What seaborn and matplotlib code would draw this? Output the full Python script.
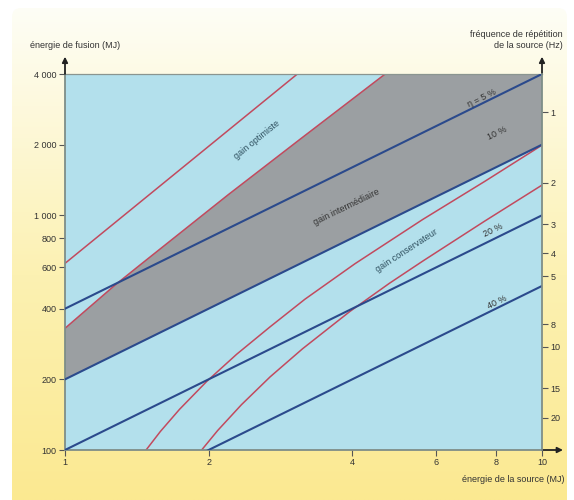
import numpy as np
import pandas as pd
import matplotlib
matplotlib.use("Agg")
import matplotlib.pyplot as plt
import seaborn as sns
from matplotlib.patches import FancyBboxPatch
from matplotlib.ticker import NullLocator, FixedLocator, FixedFormatter

# ---------------- data ----------------
source_ticks = [1, 2, 4, 6, 8, 10]
source_tick_labels = ["1", "2", "4", "6", "8", "10"]
fusion_ticks = [100, 200, 400, 600, 800, 1000, 2000, 4000]
fusion_tick_labels = ["100", "200", "400", "600", "800", "1 000", "2 000", "4 000"]
freq_ticks = [1, 2, 3, 4, 5, 8, 10, 15, 20]
freq_tick_labels = ["1", "2", "3", "4", "5", "8", "10", "15", "20"]
freq_constant = 2750  # fusion energy (MJ) x repetition frequency (Hz)

eff_labels = ["η = 5 %", "10 %", "20 %", "40 %"]
eff_x = [1, 10]
eff_5 = [400, 4000]
eff_10 = [200, 2000]
eff_20 = [100, 1000]
eff_40 = [50, 500]

gain_opt_upper_x = [1, 3.07]
gain_opt_upper_y = [624, 4000]
gain_opt_lower_x = [1, 1.274, 1.436, 2.2, 3.13, 4.69]
gain_opt_lower_y = [330, 505, 614, 1225, 2130, 4000]
gain_cons_upper_x = [1.479, 1.585, 1.738, 1.982, 2.291, 2.692, 3.184, 4.055, 5.623, 7.586, 10]
gain_cons_upper_y = [100, 120, 149, 196, 256, 335, 439, 622, 960, 1395, 1990]
gain_cons_lower_x = [1.934, 2.089, 2.344, 2.692, 3.148, 3.954, 4.786, 5.636, 7.586, 10]
gain_cons_lower_y = [100, 121, 156, 205, 270, 389, 513, 640, 945, 1345]

# ---------------- style ----------------
sns.set_theme(style="ticks")
plt.rcParams["font.family"] = ["Liberation Sans", "DejaVu Sans"]

W, H = 574, 500
fig = plt.figure(figsize=(W / 100, H / 100), dpi=100)
fig.patch.set_facecolor("white")

# background card with vertical gradient
bg = fig.add_axes([0, 0, 1, 1], zorder=-10)
bg.set_xlim(0, W)
bg.set_ylim(H, 0)
bg.axis("off")
top_c = np.array([254, 254, 248]) / 255
mid_c = np.array([252, 241, 178]) / 255
bot_c = np.array([251, 233, 145]) / 255
t = np.linspace(0, 1, H)[:, None]
grad = np.where(t < 0.55,
                top_c + (mid_c - top_c) * (t / 0.55),
                mid_c + (bot_c - mid_c) * ((t - 0.55) / 0.45))
grad = grad[:, None, :].repeat(2, axis=1)
im = bg.imshow(grad, extent=[0, W, H, 0], aspect="auto", interpolation="bilinear")
card = FancyBboxPatch((12, 8), 555, 510, boxstyle="round,pad=0,rounding_size=9",
                      transform=bg.transData, facecolor="none", edgecolor="none")
bg.add_patch(card)
im.set_clip_path(card)

# main axes
ax = fig.add_axes([65 / W, 50 / H, 477 / W, 376 / H])
ax.set_xscale("log")
ax.set_yscale("log")
ax.set_xlim(1, 10)
ax.set_ylim(100, 4000)
ax.set_facecolor("#B3E0EC")

blue = "#2B4A8C"
red = "#C24A5E"

# grey "gain intermediaire" zone
poly_x = gain_opt_lower_x + [10, eff_x[1], eff_x[0]]
poly_y = gain_opt_lower_y + [4000, eff_10[1], eff_10[0]]
ax.fill(poly_x, poly_y, color="#9B9FA2", zorder=1, linewidth=0)

# efficiency lines
for ys in [eff_5, eff_10, eff_20, eff_40]:
    sns.lineplot(x=eff_x, y=ys, ax=ax, color=blue, linewidth=1.5,
                 estimator=None, sort=False, legend=False, zorder=3)

# gain curves
for xs, ys in [(gain_opt_upper_x, gain_opt_upper_y),
               (gain_opt_lower_x, gain_opt_lower_y),
               (gain_cons_upper_x, gain_cons_upper_y),
               (gain_cons_lower_x, gain_cons_lower_y)]:
    sns.lineplot(x=xs, y=ys, ax=ax, color=red, linewidth=1.1,
                 estimator=None, sort=False, legend=False, zorder=2)

ax.set_xlim(1, 10)
ax.set_ylim(100, 4000)
ax.set_xlabel("")
ax.set_ylabel("")

# ticks
ax.xaxis.set_major_locator(FixedLocator(source_ticks))
ax.xaxis.set_major_formatter(FixedFormatter(source_tick_labels))
ax.xaxis.set_minor_locator(NullLocator())
ax.yaxis.set_major_locator(FixedLocator(fusion_ticks))
ax.yaxis.set_major_formatter(FixedFormatter(fusion_tick_labels))
ax.yaxis.set_minor_locator(NullLocator())
tick_col = "#555555"
lab_col = "#333333"
ax.tick_params(axis="both", direction="out", length=4, width=0.8, color=tick_col,
               labelsize=6.5, labelcolor=lab_col, pad=2)

ax2 = ax.twinx()
ax2.set_yscale("log")
ax2.set_ylim(freq_constant / 100, freq_constant / 4000)
ax2.yaxis.set_major_locator(FixedLocator(freq_ticks))
ax2.yaxis.set_major_formatter(FixedFormatter(freq_tick_labels))
ax2.yaxis.set_minor_locator(NullLocator())
ax2.tick_params(axis="y", direction="out", length=4, width=0.8, color=tick_col,
                labelsize=6.5, labelcolor=lab_col, pad=2)
ax2.grid(False)
ax.grid(False)

spine_col = "#7E8E88"
for s in ["left", "bottom"]:
    ax.spines[s].set_color(spine_col)
    ax.spines[s].set_linewidth(1.3)
ax.spines["top"].set_color("#8A9590")
ax.spines["top"].set_linewidth(0.9)
ax.spines["right"].set_visible(False)
for s in ["left", "top", "bottom"]:
    ax2.spines[s].set_visible(False)
ax2.spines["right"].set_color(spine_col)
ax2.spines["right"].set_linewidth(1.3)

# axis arrows
arrow_kw = dict(arrowstyle="-|>", color="#222222", lw=1.3, mutation_scale=8,
                shrinkA=0, shrinkB=0)
ax.annotate("", xy=(0, 1.046), xytext=(0, 1.0), xycoords="axes fraction",
            arrowprops=arrow_kw, annotation_clip=False)
ax.annotate("", xy=(1, 1.046), xytext=(1, 1.0), xycoords="axes fraction",
            arrowprops=arrow_kw, annotation_clip=False)
ax.annotate("", xy=(1.044, 0), xytext=(1.0, 0), xycoords="axes fraction",
            arrowprops=arrow_kw, annotation_clip=False)

# in-plot labels
txt_col = "#2E4F5E"
ax.text(2.52, 2094, "gain optimiste", rotation=39, fontsize=6.5, color=txt_col,
        ha="center", va="center", zorder=5)
ax.text(3.90, 1081, "gain intermédiaire", rotation=26, fontsize=6.5, color="#333333",
        ha="center", va="center", zorder=5)
ax.text(5.20, 706, "gain conservateur", rotation=33, fontsize=6.5, color=txt_col,
        ha="center", va="center", zorder=5)
ax.text(7.47, 3151, eff_labels[0], rotation=26, fontsize=6.5, color="#333333",
        ha="center", va="center", zorder=5)
ax.text(8.04, 2234, eff_labels[1], rotation=26, fontsize=6.5, color="#333333",
        ha="center", va="center", zorder=5)
ax.text(7.91, 865, eff_labels[2], rotation=26, fontsize=6.5, color="#333333",
        ha="center", va="center", zorder=5)
ax.text(8.04, 428, eff_labels[3], rotation=26, fontsize=6.5, color="#333333",
        ha="center", va="center", zorder=5)

# axis titles
fig.text(30 / W, 1 - 45 / H, "énergie de fusion (MJ)", fontsize=6.5, color=lab_col,
         ha="left", va="center")
fig.text(563 / W, 1 - 40 / H, "fréquence de répétition\nde la source (Hz)",
         fontsize=6.5, color=lab_col, ha="right", va="center", multialignment="right",
         linespacing=1.4)
fig.text(564 / W, 1 - 480 / H, "énergie de la source (MJ)", fontsize=6.5,
         color=lab_col, ha="right", va="center")

fig.savefig("out.png", dpi=100)
